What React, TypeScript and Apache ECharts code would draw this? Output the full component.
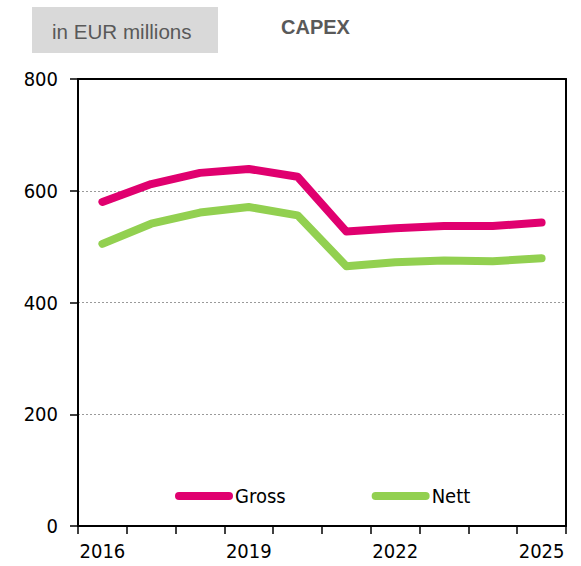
import React, { useEffect, useRef } from "react";
import * as echarts from "echarts";

const years = ["2016", "2017", "2018", "2019", "2020", "2021", "2022", "2023", "2024", "2025"];
const gross = [580, 612, 632, 639, 625, 527, 533, 537, 537, 543];
const nett = [505, 541, 561, 571, 556, 465, 472, 475, 474, 479];
const yTicks = [0, 200, 400, 600, 800];
const unitLabel = "in EUR millions";
const titleText = "CAPEX";

const FONT = "'DejaVu Sans Condensed', 'DejaVu Sans', sans-serif";
const ARIAL = "'Liberation Sans', Arial, sans-serif";

export default function App() {
  const ref = useRef<HTMLDivElement>(null);
  useEffect(() => {
    if (!ref.current) return;
    const chart = echarts.init(ref.current, undefined, { renderer: "svg" });
    const pill = "path://M4,0 H54 A4,4 0 0 1 54,8 H4 A4,4 0 0 1 4,0 Z";
    chart.setOption({
      animation: false,
      backgroundColor: "#ffffff",
      grid: { left: 78, right: 15, top: 79, height: 447 },
      graphic: [
        { type: "rect", shape: { x: 32, y: 7, width: 186, height: 46 }, style: { fill: "#D9D9D9" } },
        {
          type: "text", x: 52, y: 31,
          style: { text: unitLabel, font: `20.6px ${ARIAL}`, fill: "#595959", verticalAlign: "middle" },
        },
        {
          type: "text", x: 281, y: 27,
          style: { text: titleText, font: `bold 20px ${ARIAL}`, fill: "#595959", verticalAlign: "middle" },
        },
      ],
      legend: {
        left: 175,
        top: 486,
        padding: 0,
        itemWidth: 58,
        itemHeight: 9,
        itemGap: 86,
        textStyle: { fontFamily: FONT, fontSize: 20, color: "#000", padding: [0, 0, 0, -3] },
        data: [
          { name: "Gross", icon: pill },
          { name: "Nett", icon: pill },
        ],
      },
      xAxis: [
        {
          type: "category",
          data: years,
          boundaryGap: true,
          axisLine: { lineStyle: { color: "#000", width: 2 } },
          axisTick: { show: true, interval: 0, length: 8, lineStyle: { color: "#000", width: 1.5 } },
          axisLabel: { interval: 2, margin: 15, fontFamily: FONT, fontSize: 20, color: "#000" },
          splitLine: { show: false },
        },
        {
          type: "category",
          data: years,
          position: "top",
          axisLine: { show: true, onZero: false, lineStyle: { color: "#000", width: 2 } },
          axisTick: { show: false },
          axisLabel: { show: false },
          splitLine: { show: false },
        },
      ],
      yAxis: [
        {
          type: "value",
          min: yTicks[0],
          max: yTicks[yTicks.length - 1],
          interval: 200,
          axisLine: { show: true, lineStyle: { color: "#000", width: 2 } },
          axisTick: { show: true, length: 8, lineStyle: { color: "#000", width: 1.5 } },
          axisLabel: { margin: 20, fontFamily: FONT, fontSize: 20, color: "#000" },
          splitLine: { show: true, lineStyle: { color: "#9a9a9a", width: 1, type: [2, 2] } },
        },
        {
          type: "value",
          min: yTicks[0],
          max: yTicks[yTicks.length - 1],
          interval: 200,
          position: "right",
          axisLine: { show: true, onZero: false, lineStyle: { color: "#000", width: 2 } },
          axisTick: { show: false },
          axisLabel: { show: false },
          splitLine: { show: false },
        },
      ],
      series: [
        {
          name: "Gross",
          type: "line",
          data: gross,
          showSymbol: false,
          symbol: "none",
          color: "#E0006F",
          lineStyle: { color: "#E0006F", width: 8, cap: "round", join: "round" },
        },
        {
          name: "Nett",
          type: "line",
          data: nett,
          showSymbol: false,
          symbol: "none",
          color: "#92D050",
          lineStyle: { color: "#92D050", width: 8, cap: "round", join: "round" },
        },
      ],
    });
    return () => chart.dispose();
  }, []);
  return (
    <div
      ref={ref}
      style={{ position: "fixed", left: 0, top: 0, width: 581, height: 566 }}
    />
  );
}
